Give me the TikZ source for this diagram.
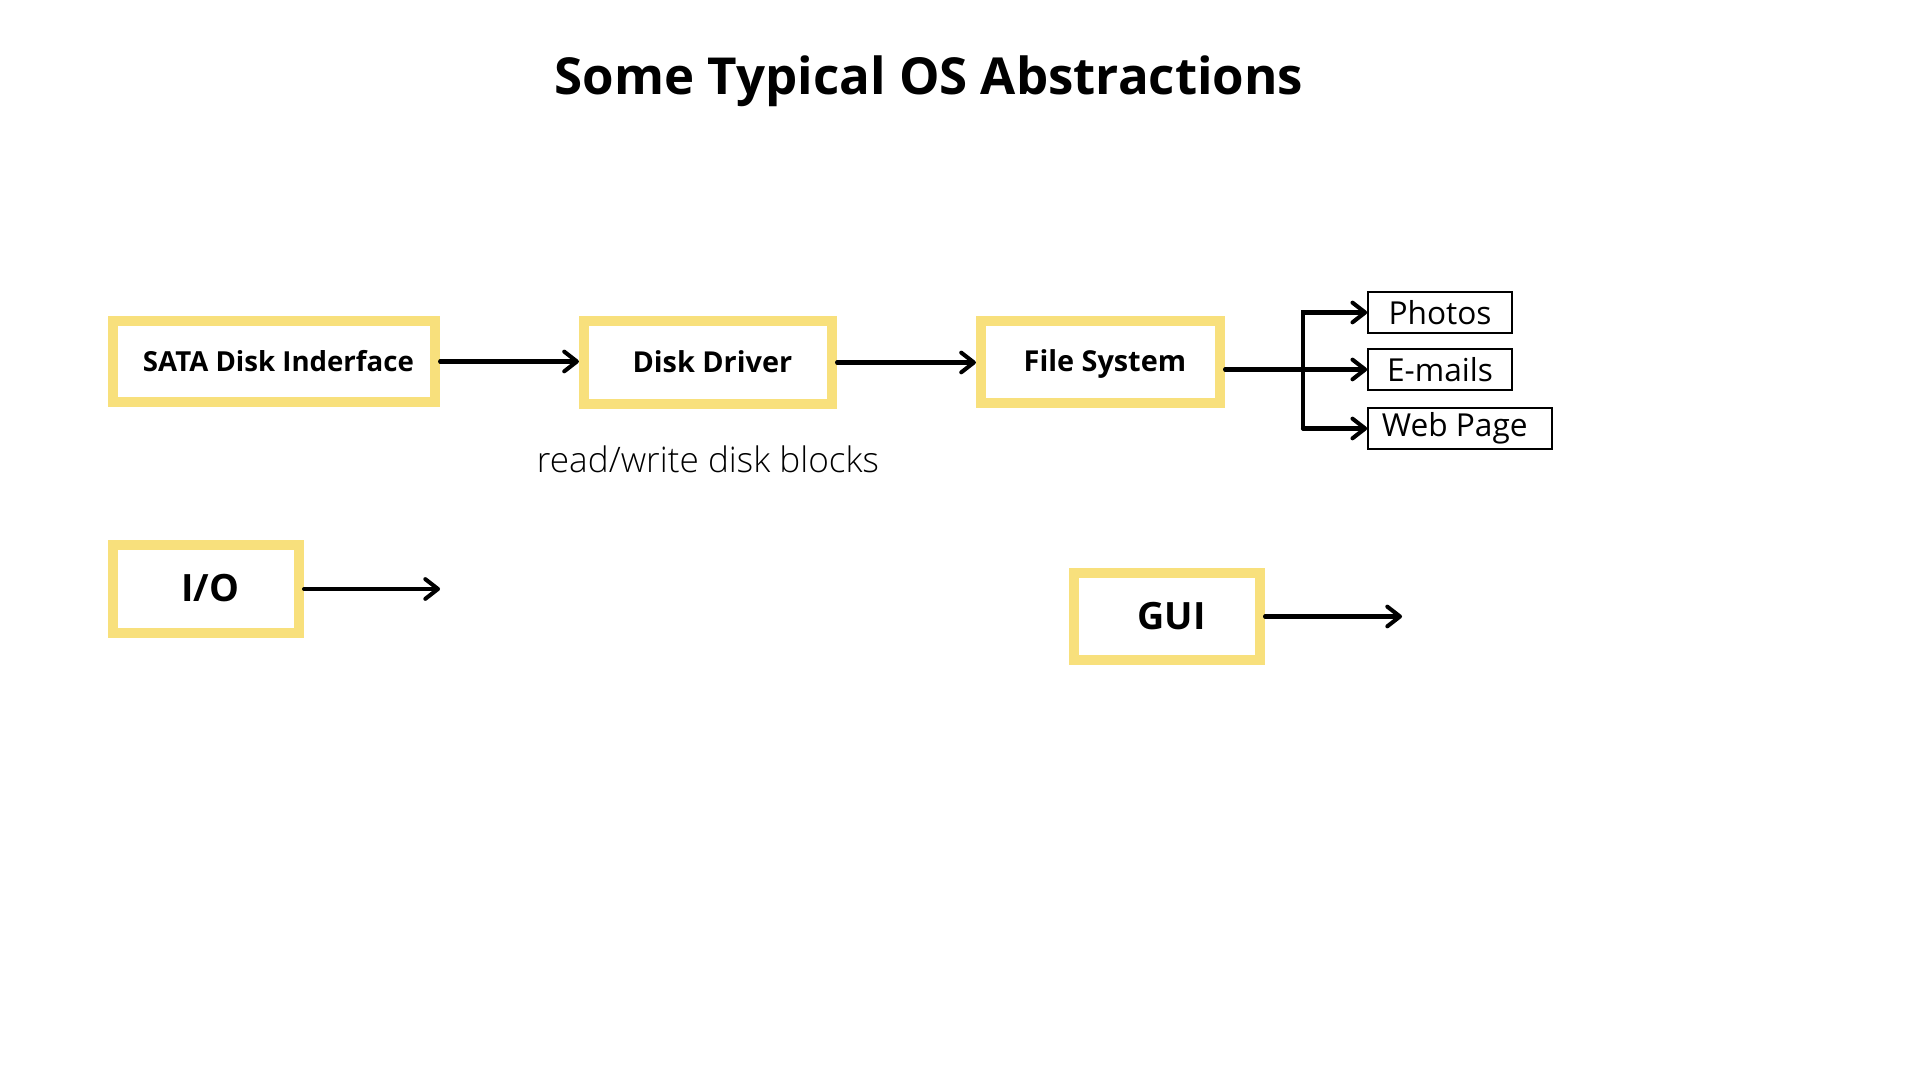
\documentclass[tikz,border=0pt]{standalone}
\usepackage{fontspec}
\setmainfont{Open Sans}
\newfontfamily\lightfont{Open Sans}[UprightFont=* Light]
\usepackage{tikz}
\usetikzlibrary{arrows.meta,positioning}
\definecolor{boxyellow}{RGB}{248,224,124}
\tikzset{
  absbox/.style = {rectangle, draw=boxyellow, line width=2.85pt, fill=white,
    inner sep=0pt, align=center, font=\bfseries,
    text height=0.72em, text depth=0.17em,
    execute at begin node=\hspace*{2.5pt}},% boite jaune
  outbox/.style = {rectangle, draw=black, line width=0.45pt, inner sep=0pt,
    minimum height=41*0.2845pt, font=\fontsize{9}{11}\selectfont},% boite de sortie
  arr/.style = {draw=black, line width=1.15pt, line cap=round,
    -{Straight Barb[length=3.6pt, width=5.6pt, line cap=round, line join=round]}}
}

\begin{document}
\begin{tikzpicture} [x=0.01cm, y=-0.01cm]
		\useasboundingbox (0,0) rectangle (1920,1080);
		\node [anchor=base, font=\bfseries\fontsize{14.5}{17}\selectfont] (title) at (929,95) {Some Typical OS Abstractions};
		% chaine du disque
		\node [absbox, minimum width=322*0.2845pt, minimum height=81*0.2845pt, font=\bfseries\fontsize{7.85}{10}\selectfont] (sata) at (274,361.5) {SATA Disk Inderface};
		\node [absbox, minimum width=248*0.2845pt, minimum height=83*0.2845pt, font=\bfseries\fontsize{8.2}{10}\selectfont] (ddrv) at (708,362.5) {Disk Driver};
		\node [absbox, minimum width=239*0.2845pt, minimum height=82*0.2845pt, font=\bfseries\fontsize{8.2}{10}\selectfont] (fsys) at (1100.5,362) {File System};
		\node [anchor=base, font=\lightfont\fontsize{10}{12}\selectfont] (rw) at (708,473) {read/write disk blocks};
		% sorties
		\node [outbox, minimum width=144*0.2845pt] (photos) at (1440,312.5) {Photos};
		\node [outbox, minimum width=144*0.2845pt] (emails) at (1440,369.5) {E-mails};
		\node [outbox, minimum width=184*0.2845pt] (webpage) at (1460,428.5) {\hspace*{-3pt}Web Page};
		% autres
		\node [absbox, text depth=0pt, minimum width=186*0.2845pt, minimum height=88*0.2845pt, font=\bfseries\fontsize{10.7}{13}\selectfont] (io) at (206,589) {I/O};
		\node [absbox, text depth=0pt, minimum width=186*0.2845pt, minimum height=87*0.2845pt, font=\bfseries\fontsize{10.7}{13}\selectfont] (gui) at (1167,616.5) {GUI};
		\coordinate (br) at (1303,368);
		\coordinate (ioend) at (440,589);
		\coordinate (guiend) at (1402,616.5);
		\draw [arr] (sata.east) -- (sata.east -| ddrv.west);
		\draw [arr] (ddrv.east) -- (ddrv.east -| fsys.west);
		\draw [arr] (fsys.east |- emails.west) -- (emails.west);
		\draw [arr] (br |- webpage.west) -- (br |- photos.west) -- (photos.west);
		\draw [arr] (br |- webpage.west) -- (webpage.west);
		\draw [arr] (io.east) -- (ioend);
		\draw [arr] (gui.east) -- (guiend);
	\end{tikzpicture}
\end{document}
